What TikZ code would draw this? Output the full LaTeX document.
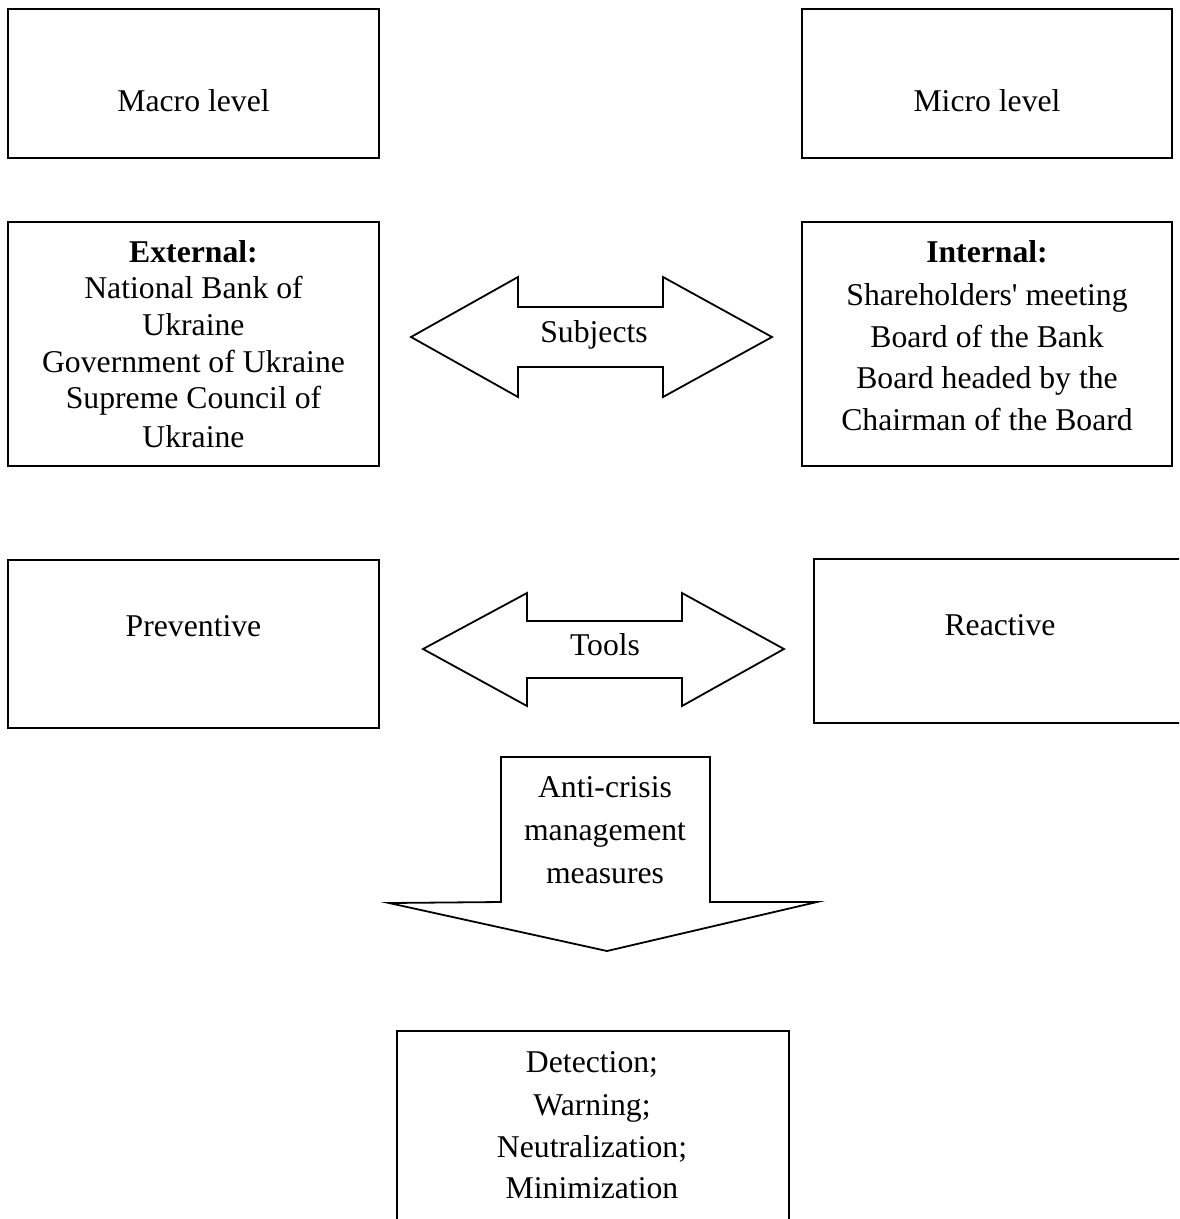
\documentclass[tikz,border=0pt]{standalone}
\usepackage{fontspec}
\setmainfont{Liberation Serif}
\begin{document}
\begin{tikzpicture}[x=1pt,y=-1pt,
  box/.style={draw=black,line width=1.8pt,rectangle,inner sep=0pt},
  shapeline/.style={draw=black,line width=1.8pt,line join=miter,fill=white},
  txt/.style={font=\fontsize{31.7}{36}\selectfont,anchor=base,inner sep=0pt}]
\useasboundingbox (0,0) rectangle (1179,1219);
\clip (0,0) rectangle (1179,1219);
\fill[white] (0,0) rectangle (1179,1219);
% boxes
\node[box,minimum width=371pt,minimum height=149pt] (macro) at (193.5,83.5) {};
\node[box,minimum width=370pt,minimum height=149pt] (micro) at (987,83.5) {};
\node[box,minimum width=371pt,minimum height=244pt] (ext) at (193.5,344) {};
\node[box,minimum width=370pt,minimum height=244pt] (int) at (987,344) {};
\node[box,minimum width=371pt,minimum height=168pt] (prev) at (193.5,644) {};
\node[box,minimum width=380pt,minimum height=164pt] (react) at (1004,641) {};
\node[box,minimum width=392pt,minimum height=200pt] (res) at (593,1131) {};
% arrows
\draw[shapeline] (411,337) -- (518,277) -- (518,307) -- (663,307) -- (663,277) -- (772,337)
  -- (663,397) -- (663,367) -- (518,367) -- (518,397) -- cycle;
\draw[shapeline] (423,649) -- (527,593) -- (527,621) -- (682,621) -- (682,593) -- (784,649)
  -- (682,706) -- (682,678) -- (527,678) -- (527,706) -- cycle;
\draw[shapeline] (501,757) -- (710,757) -- (710,902) -- (817,902) -- (607,951)
  -- (389,903) -- (501,902) -- cycle;
% texts
\node[txt] (tmacro) at (193.5,111) {Macro level};
\node[txt] (tmicro) at (987,111) {Micro level};
\node[txt] (te1) at (193.5,262) {\bfseries External:};
\node[txt] (te2) at (193.5,298) {National Bank of};
\node[txt] (te3) at (193.5,335) {Ukraine};
\node[txt] (te4) at (193.5,372) {Government of Ukraine};
\node[txt] (te5) at (193.5,408) {Supreme Council of};
\node[txt] (te6) at (193.5,447) {Ukraine};
\node[txt] (ti1) at (987,262) {\bfseries Internal:};
\node[txt] (ti2) at (987,305) {Shareholders\textquotesingle{} meeting};
\node[txt] (ti3) at (987,347) {Board of the Bank};
\node[txt] (ti4) at (987,388) {Board headed by the};
\node[txt] (ti5) at (987,430) {Chairman of the Board};
\node[txt] (tsub) at (594,342) {Subjects};
\node[txt] (ttools) at (605,655) {Tools};
\node[txt] (tprev) at (193.5,636) {Preventive};
\node[txt] (treact) at (1000,635) {Reactive};
\node[txt] (ta1) at (605,797) {Anti-crisis};
\node[txt] (ta2) at (605,840) {management};
\node[txt] (ta3) at (605,883) {measures};
\node[txt] (tr1) at (592,1072) {Detection;};
\node[txt] (tr2) at (592,1115) {Warning;};
\node[txt] (tr3) at (592,1157) {Neutralization;};
\node[txt] (tr4) at (592,1198) {Minimization};
\end{tikzpicture}
\end{document}
